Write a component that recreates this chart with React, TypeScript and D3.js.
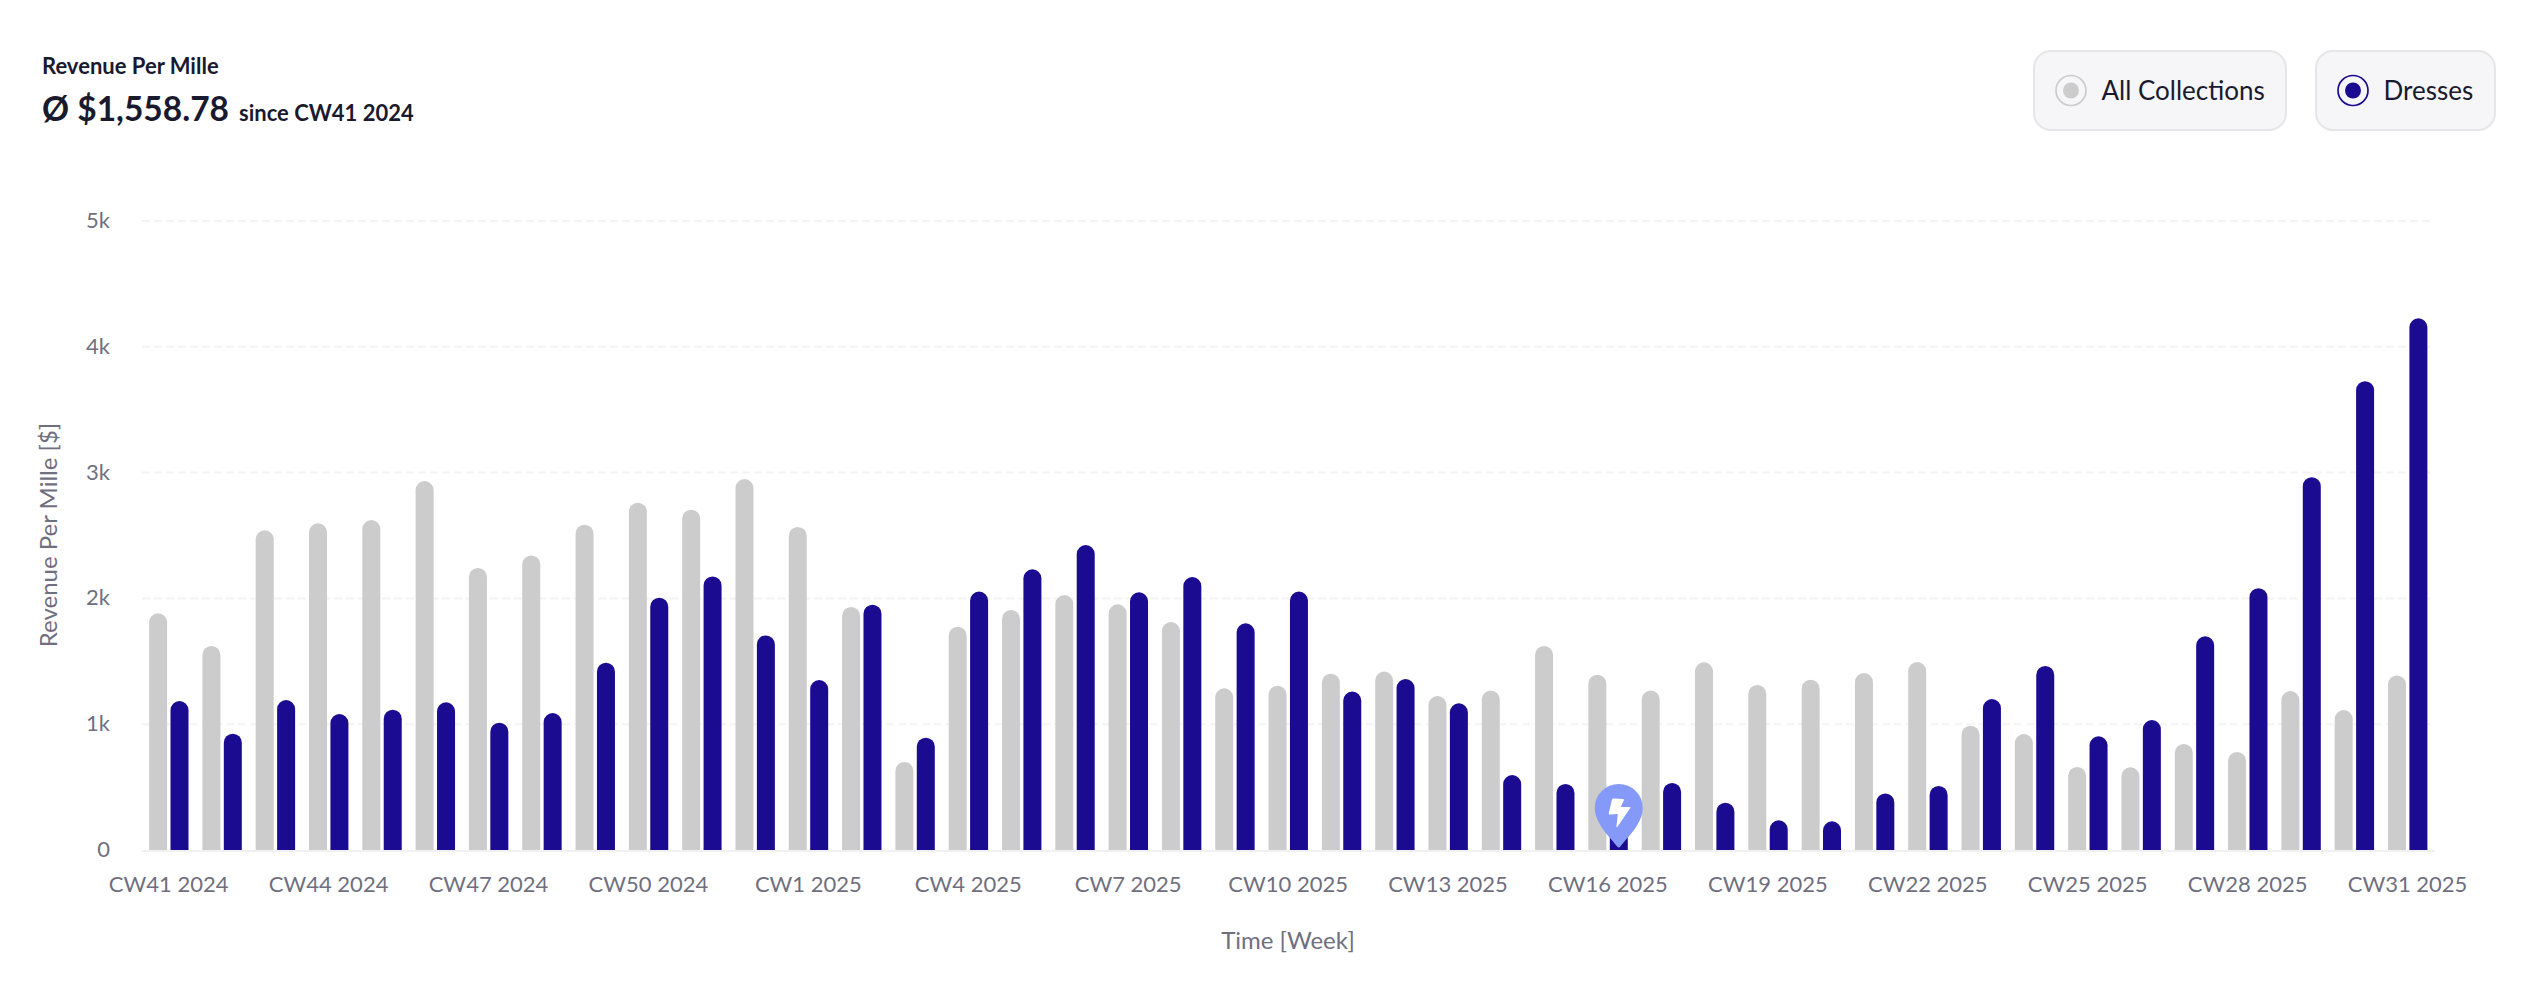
import React from "react";
import * as d3 from "d3";

const weeks: string[] = [
  "CW41 2024","CW42 2024","CW43 2024","CW44 2024","CW45 2024","CW46 2024","CW47 2024","CW48 2024","CW49 2024","CW50 2024","CW51 2024","CW52 2024",
  "CW1 2025","CW2 2025","CW3 2025","CW4 2025","CW5 2025","CW6 2025","CW7 2025","CW8 2025","CW9 2025","CW10 2025","CW11 2025","CW12 2025",
  "CW13 2025","CW14 2025","CW15 2025","CW16 2025","CW17 2025","CW18 2025","CW19 2025","CW20 2025","CW21 2025","CW22 2025","CW23 2025","CW24 2025",
  "CW25 2025","CW26 2025","CW27 2025","CW28 2025","CW29 2025","CW30 2025","CW31 2025",
];
const allCollections: number[] = [
  1881,1622,2541,2597,2623,2933,2242,2342,2586,2761,2705,2949,2568,1932,700,1775,1908,2027,1953,1812,1285,1306,1402,1418,
  1224,1267,1622,1394,1267,1492,1312,1354,1407,1494,988,922,660,657,843,780,1263,1112,1388,
];
const dresses: number[] = [
  1184,925,1192,1081,1115,1174,1012,1089,1489,2006,2175,1706,1351,1950,893,2054,2231,2424,2048,2170,1802,2054,1259,1359,
  1166,596,525,320,533,376,236,228,450,509,1200,1463,904,1033,1699,2081,2964,3727,4227,
];
const yTicks: number[] = [0, 1000, 2000, 3000, 4000, 5000];
const pinWeek = "CW16 2025";

const GRAY = "#cccccc";
const NAVY = "#1b0b91";
const TEXT = "#1a1a2e";
const MUTED = "#6f6f80";
const FONT = "Lato, sans-serif";

const x = d3.scaleBand<string>().domain(weeks).range([142, 2434.2]).padding(0);
const sub = d3.scaleBand<string>().domain(["all", "dresses"]).range([7.1, 46.5]).paddingInner(0.159);
const y = d3.scaleLinear().domain([0, 5000]).range([850, 221]);
const fmtY = (v: number) => (v === 0 ? "0" : `${v / 1000}k`);

function barPath(x0: number, w: number, top: number, base: number) {
  const r = Math.min(w / 2, base - top);
  const p = d3.path();
  p.moveTo(x0, base);
  p.lineTo(x0, top + r);
  p.arcTo(x0, top, x0 + r, top, r);
  p.lineTo(x0 + w - r, top);
  p.arcTo(x0 + w, top, x0 + w, top + r, r);
  p.lineTo(x0 + w, base);
  p.closePath();
  return p.toString();
}

function Bars({ values, series, fill }: { values: number[]; series: string; fill: string }) {
  return (
    <g fill={fill}>
      {values.map((v, i) => (
        <path key={i} d={barPath(x(weeks[i])! + sub(series)!, sub.bandwidth(), y(v), y(0))} />
      ))}
    </g>
  );
}

function LegendButton({ bx, bw, label, color }: { bx: number; bw: number; label: string; color: string }) {
  return (
    <g>
      <rect x={bx} y={51} width={bw} height={79} rx={17} fill="#f6f6f9" stroke="#e6e6ea" strokeWidth={2} />
      <circle cx={bx + 37} cy={90.5} r={15} fill="none" stroke={color} strokeWidth={1.7} />
      <circle cx={bx + 37} cy={90.5} r={8} fill={color} />
      <text x={bx + 67.5} y={100} fontSize={26} fill={TEXT}>{label}</text>
    </g>
  );
}

export default function App() {
  const pinX = x(pinWeek)! + sub("dresses")! + sub.bandwidth() / 2;
  return (
    <svg
      width={2528}
      height={990}
      viewBox="0 0 2528 990"
      style={{ position: "absolute", top: 0, left: 0, display: "block", background: "#fff" }}
      fontFamily={FONT}
    >
      <text x={42} y={74} fontSize={22} fontWeight={700} fill={TEXT}>Revenue Per Mille</text>
      <text x={42} y={121} fontSize={33.5} fontWeight={700} fill={TEXT}>Ø $1,558.78</text>
      <text x={239} y={121} fontSize={22} fontWeight={700} fill={TEXT}>since CW41 2024</text>

      <LegendButton bx={2034} bw={252} label="All Collections" color={GRAY} />
      <LegendButton bx={2316} bw={179} label="Dresses" color={NAVY} />

      {yTicks.filter((t) => t > 0).map((t) => (
        <line key={t} x1={142} x2={2431} y1={y(t)} y2={y(t)} stroke="#f3f3f5" strokeWidth={2} strokeDasharray="8 4" />
      ))}
      <line x1={142} x2={2435} y1={851} y2={851} stroke="#f1f1f4" strokeWidth={2} />

      {yTicks.map((t) => (
        <text key={t} x={110} y={y(t) + 7} textAnchor="end" fontSize={22} fill={MUTED}>{fmtY(t)}</text>
      ))}

      <Bars values={allCollections} series="all" fill={GRAY} />
      <Bars values={dresses} series="dresses" fill={NAVY} />

      {weeks.filter((_, i) => i % 3 === 0).map((w) => (
        <text key={w} x={x(w)! + x.bandwidth() / 2} y={892} textAnchor="middle" fontSize={22} fill={MUTED}>{w}</text>
      ))}

      <text transform="translate(57,535) rotate(-90)" textAnchor="middle" fontSize={24} fill={MUTED}>Revenue Per Mille [$]</text>
      <text x={1288} y={949} textAnchor="middle" fontSize={24} fill={MUTED}>Time [Week]</text>

      <g transform={`translate(${pinX},${y(0)})`}>
        <path d="M-1.6,-3.4 C-7,-11 -24,-26 -24,-42 A24,24 0 1 1 24,-42 C24,-26 7,-11 1.6,-3.4 Q0,-1.6 -1.6,-3.4 Z" fill="#8599f8" />
        <path d="M-5.5,-51.5 L4.5,-51 Q5.5,-50.8 5,-49.5 L2,-43 L11,-43 Q12,-42.8 11.5,-42 L-1.5,-23 Q-2.5,-22 -2.3,-24 L-1,-36 L-9,-35.5 Q-10.3,-35.5 -10,-37 L-7,-50 Q-6.8,-51.5 -5.5,-51.5 Z" fill="#fff" />
      </g>
    </svg>
  );
}
